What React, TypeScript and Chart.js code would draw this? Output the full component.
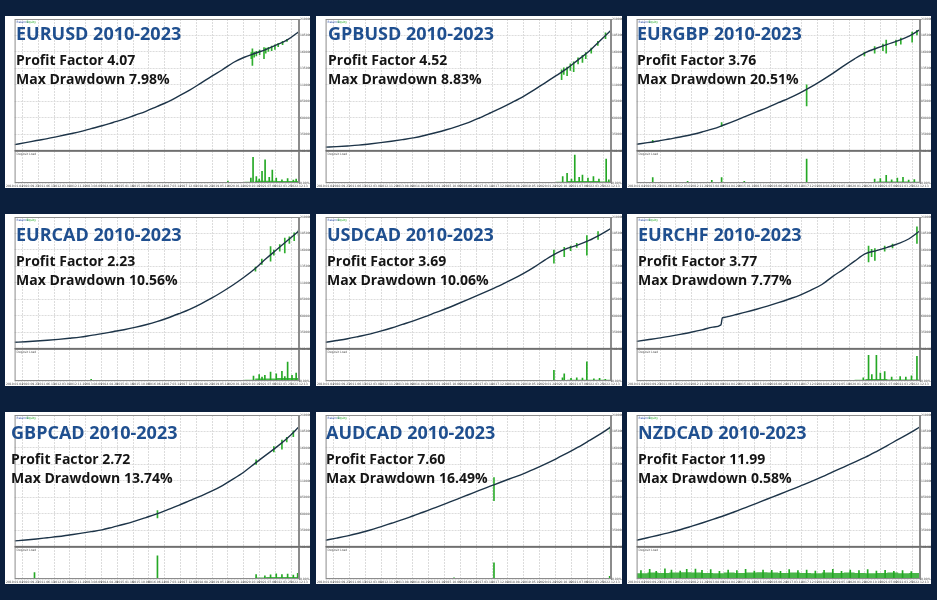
import { useEffect, useRef } from 'react';
import { Chart, registerables } from 'chart.js';

Chart.register(...registerables);

// ---------- text ----------
const pairs = ['EURUSD', 'GPBUSD', 'EURGBP', 'EURCAD', 'USDCAD', 'EURCHF', 'GBPCAD', 'AUDCAD', 'NZDCAD'];
const period = '2010-2023';
const profitFactors = ['4.07', '4.52', '3.76', '2.23', '3.69', '3.77', '2.72', '7.60', '11.99'];
const maxDrawdowns = ['7.98%', '8.83%', '20.51%', '10.56%', '10.06%', '7.77%', '13.74%', '16.49%', '0.58%'];

// ---------- x axis ----------
const halfYears = [2010, 2010.5, 2011, 2011.5, 2012, 2012.5, 2013, 2013.5, 2014, 2014.5, 2015, 2015.5, 2016, 2016.5,
  2017, 2017.5, 2018, 2018.5, 2019, 2019.5, 2020, 2020.5, 2021, 2021.5, 2022, 2022.5, 2023];
const dateLabels = ['2010.01.04', '2010.09.23', '2011.06.13', '2012.03.01', '2012.11.20', '2013.08.09', '2014.04.29',
  '2015.01.16', '2015.10.06', '2016.06.24', '2017.03.14', '2017.12.01', '2018.08.21', '2019.05.10', '2020.01.28',
  '2020.10.16', '2021.07.06', '2022.03.25', '2022.12.13'];

// ---------- balance (share of pane height, %) ----------
const balEURUSD = [4.7, 6.2, 7.8, 9.3, 11.0, 12.8, 14.6, 16.8, 19.0, 21.5, 24.0, 27.0, 30.0, 33.6, 37.2, 41.5, 46.0, 51.2, 56.5, 61.5, 67.0, 71.0, 74.0, 77.0, 80.5, 84.5, 90.5];
const balGPBUSD = [2.8, 3.2, 3.7, 4.3, 5.2, 6.2, 7.3, 8.5, 9.8, 11.6, 13.7, 16.0, 18.6, 21.4, 24.9, 28.7, 32.6, 36.8, 41.2, 46.2, 51.6, 57.0, 62.5, 69.0, 75.5, 83.5, 91.5];
const balEURGBP = [5.0, 6.2, 7.5, 9.0, 10.5, 12.2, 14.3, 16.6, 19.6, 22.8, 26.2, 29.5, 32.8, 36.5, 40.0, 44.0, 48.5, 53.5, 58.8, 64.5, 69.8, 74.5, 77.8, 80.8, 83.6, 87.0, 92.0];
const balEURCAD = [5.0, 5.4, 5.9, 6.5, 7.2, 8.0, 8.9, 10.2, 11.5, 13.0, 14.5, 16.3, 18.3, 20.6, 23.4, 26.6, 30.0, 34.0, 38.4, 43.3, 48.6, 54.5, 61.0, 68.5, 75.5, 82.5, 89.5];
const balUSDCAD = [5.0, 6.3, 7.7, 9.4, 11.2, 13.4, 15.8, 18.5, 21.2, 24.2, 27.4, 30.6, 34.0, 37.5, 41.1, 44.8, 48.6, 52.6, 57.0, 62.0, 67.5, 72.5, 76.2, 78.8, 82.2, 86.5, 91.3];
const balEURCHF = [5.7, 6.9, 8.1, 9.5, 11.0, 12.6, 14.4, 16.5, 23.8, 25.8, 27.8, 30.0, 32.4, 35.0, 37.8, 40.8, 44.5, 48.8, 55.0, 60.5, 66.5, 72.2, 74.5, 77.0, 79.8, 83.5, 89.6];
const balEURCHFStep = [[2013.87, 18.2], [2013.93, 23.4]];
const balGBPCAD = [4.5, 5.2, 6.0, 6.9, 7.8, 9.0, 10.2, 11.5, 12.9, 15.0, 17.1, 19.5, 22.2, 25.0, 28.2, 31.5, 35.0, 38.5, 42.2, 46.5, 51.5, 57.0, 63.5, 69.8, 76.0, 83.0, 91.0];
const balAUDCAD = [5.0, 6.6, 8.3, 10.3, 12.6, 15.2, 17.9, 20.6, 23.6, 26.6, 29.8, 33.0, 36.2, 39.5, 42.8, 46.0, 49.2, 52.3, 55.4, 59.0, 62.8, 66.8, 71.0, 75.6, 80.5, 85.5, 91.0];
const balNZDCAD = [5.0, 6.9, 8.8, 10.8, 13.0, 15.5, 18.1, 20.8, 23.6, 26.6, 29.8, 33.0, 36.3, 39.5, 42.8, 46.1, 49.4, 53.0, 56.8, 60.5, 64.2, 68.0, 72.3, 76.8, 81.5, 86.0, 91.0];

// ---------- equity excursions [year, low, high] ----------
const eqEURUSD = [[2020.82, 70, 74.5], [2020.87, 64.7, 77.4], [2020.95, 71, 75], [2021.05, 72, 75.5], [2021.2, 73, 76.5], [2021.4, 70, 78.4], [2021.48, 74, 78], [2021.6, 75.5, 78.5], [2021.75, 76, 79.5], [2021.9, 77, 80.5], [2022.05, 79, 81.5], [2022.25, 80.5, 83], [2022.45, 83, 84.5]];
const eqGPBUSD = [[2020.75, 54, 61.5], [2020.85, 58, 63], [2021.0, 57, 63.5], [2021.15, 61, 66], [2021.3, 60, 67.5], [2021.5, 66, 70.5], [2021.7, 67, 72.5], [2021.85, 70, 74.5], [2022.1, 74, 78], [2022.4, 80, 83], [2022.75, 85, 89.5]];
const eqEURGBP = [[2010.74, 6.3, 8], [2013.9, 18.5, 21.5], [2017.8, 34, 50], [2020.45, 72, 75], [2020.92, 74, 79], [2021.3, 76, 81], [2021.45, 74, 84], [2021.9, 80, 84], [2022.12, 81, 85.5], [2022.64, 82.5, 90], [2022.86, 88, 91.5]];
const eqEURCAD = [[2021.01, 59, 62], [2021.3, 64, 68], [2021.7, 66.5, 77.5], [2021.85, 71, 75], [2022.12, 74, 79], [2022.35, 72.7, 84], [2022.56, 80, 85], [2022.78, 82, 88], [2022.98, 86, 90]];
const eqUSDCAD = [[2020.4, 65, 75], [2020.87, 70, 77], [2021.16, 74.5, 78], [2021.44, 77, 80], [2021.9, 71, 86], [2022.41, 83, 89]];
const eqEURCHF = [[2020.64, 66, 78], [2020.78, 70, 75.5], [2020.93, 67, 76], [2021.38, 74, 78], [2021.74, 76.5, 79.5], [2022.86, 80, 92.5]];
const eqGBPCAD = [[2016.53, 22, 27.5], [2021.04, 62.5, 66], [2021.85, 72, 76], [2022.22, 74, 81], [2022.44, 79.5, 83], [2022.74, 83.5, 88]];
const eqAUDCAD = [[2017.67, 35, 52.5], [2022.98, 86, 91]];
const eqNZDCAD: number[][] = [];

// ---------- deposit load: base level per half-year (%) ----------
const baseEURUSD = [3, 3, 3, 3, 3, 3, 3, 3, 3, 3, 3, 3, 3, 3, 3, 3, 3, 3, 3, 3, 3, 4, 7, 7, 6, 6, 5];
const baseGPBUSD = [3, 3, 3, 3, 3, 3, 3, 3, 3, 3, 3, 3, 3, 3, 3, 3, 3, 3, 3, 3, 3, 4, 6, 6, 6, 5, 5];
const baseEURGBP = [2, 2, 2, 2, 2, 2, 2, 2, 2, 2, 2, 2, 2, 2, 2, 2, 2, 2, 2, 2, 2, 3, 5, 5, 5, 4, 4];
const baseEURCAD = [3, 3, 3, 3, 3, 3, 3, 3, 3, 3, 3, 3, 3, 3, 3, 3, 3, 3, 3, 3, 3, 4, 8, 8, 9, 9, 9];
const baseUSDCAD = [2, 2, 2, 2, 2, 2, 2, 2, 2, 2, 2, 2, 2, 2, 2, 2, 2, 2, 2, 2, 3, 3, 4, 4, 4, 4, 3];
const baseEURCHF = [3, 3, 3, 3, 3, 3, 3, 3, 3, 3, 3, 3, 3, 3, 3, 3, 3, 3, 3, 3, 4, 6, 6, 5, 5, 5, 5];
const baseGBPCAD = [2, 2, 2, 2, 2, 2, 2, 2, 2, 2, 2, 2, 2, 2, 2, 2, 2, 2, 2, 2, 2, 3, 5, 6, 6, 6, 6];
const baseAUDCAD = [1, 1, 1, 1, 1, 1, 1, 1, 1, 1, 1, 1, 1, 1, 1, 1, 1, 1, 1, 1, 1, 1, 1, 1, 1, 1, 1];
const baseNZDCAD = [18, 20, 19, 20, 21, 20, 19, 18, 20, 19, 20, 21, 20, 19, 20, 19, 18, 20, 19, 20, 19, 18, 19, 20, 18, 19, 18];

// ---------- deposit load spikes [year, %] ----------
const spEURUSD = [[2019.75, 6], [2020.8, 15], [2020.9, 80], [2021.05, 20], [2021.18, 12], [2021.31, 36], [2021.45, 72], [2021.64, 18], [2021.78, 40], [2021.96, 15], [2022.22, 10], [2022.48, 14], [2022.74, 9], [2022.87, 12]];
const spGPBUSD = [[2020.8, 20], [2021.0, 30], [2021.2, 12], [2021.35, 87], [2021.55, 18], [2021.7, 25], [2021.95, 15], [2022.2, 20], [2022.45, 12], [2022.78, 74], [2022.9, 10]];
const spEURGBP = [[2010.74, 17], [2012.34, 5], [2013.45, 8], [2013.9, 17], [2014.94, 5], [2017.8, 74], [2020.92, 12], [2021.18, 14], [2021.45, 24], [2021.7, 10], [2021.96, 15], [2022.22, 18], [2022.48, 9], [2022.74, 11]];
const spEURCAD = [[2013.5, 5], [2020.92, 15], [2021.18, 20], [2021.31, 12], [2021.44, 18], [2021.7, 28], [2021.96, 22], [2022.22, 30], [2022.35, 14], [2022.48, 59], [2022.68, 18], [2022.87, 25]];
const spUSDCAD = [[2020.4, 33], [2020.79, 10], [2020.87, 22], [2021.18, 8], [2021.44, 10], [2021.7, 9], [2021.9, 60], [2022.22, 7], [2022.48, 8], [2022.74, 5]];
const spEURCHF = [[2020.4, 10], [2020.64, 80], [2020.79, 20], [2021.0, 80], [2021.18, 25], [2021.38, 29], [2021.7, 12], [2022.09, 14], [2022.35, 12], [2022.61, 16], [2022.86, 77]];
const spGBPCAD = [[2010.91, 20], [2016.53, 72], [2021.04, 14], [2021.44, 10], [2021.7, 13], [2021.96, 16], [2022.22, 14], [2022.48, 15], [2022.74, 12], [2022.94, 18]];
const spAUDCAD = [[2015.85, 4], [2017.67, 50], [2022.94, 8]];
const spNZDCAD = [[2010.2, 26], [2010.6, 30], [2010.9, 24], [2011.3, 32], [2011.6, 28], [2012.0, 25], [2012.3, 30], [2012.7, 31], [2013.0, 27], [2013.4, 29], [2013.8, 24], [2014.2, 28], [2014.6, 26], [2015.0, 30], [2015.4, 25], [2015.8, 28], [2016.2, 27], [2016.6, 24], [2017.0, 29], [2017.4, 26], [2017.8, 28], [2018.2, 25], [2018.6, 27], [2019.0, 30], [2019.4, 24], [2019.8, 28], [2020.2, 26], [2020.6, 29], [2021.0, 25], [2021.4, 27], [2021.8, 24], [2022.2, 26], [2022.6, 23]];

// ---------- table built from the arrays ----------
const balances = [balEURUSD, balGPBUSD, balEURGBP, balEURCAD, balUSDCAD, balEURCHF, balGBPCAD, balAUDCAD, balNZDCAD];
const balanceExtras = [[], [], [], [], [], balEURCHFStep, [], [], []];
const equities = [eqEURUSD, eqGPBUSD, eqEURGBP, eqEURCAD, eqUSDCAD, eqEURCHF, eqGBPCAD, eqAUDCAD, eqNZDCAD];
const loadBases = [baseEURUSD, baseGPBUSD, baseEURGBP, baseEURCAD, baseUSDCAD, baseEURCHF, baseGBPCAD, baseAUDCAD, baseNZDCAD];
const loadSpikes = [spEURUSD, spGPBUSD, spEURGBP, spEURCAD, spUSDCAD, spEURCHF, spGBPCAD, spAUDCAD, spNZDCAD];

// ---------- layout / style ----------
const BG = '#0b1f3d';
const TITLE = '#1f4f8f';
const LINE = '#1d3448';
const GREEN = '#2fae2f';
const GRID = '#dcdcdc';
const colX = [5, 316, 627];
const colW = [305, 306, 304];
const rowY = [16, 214, 412];
const PANEL_H = 172;
const rowTextTop = [0, 3, 3];
const textLeft = [11, 12, 10, 11, 11, 11, 6, 10, 11];

const panePlugin = {
  id: 'panes',
  afterDatasetsDraw(chart: any) {
    const { ctx, chartArea } = chart;
    const y = chart.scales.y;
    const y2 = chart.scales.y2;
    ctx.save();
    ctx.strokeStyle = '#8c8c8c';
    ctx.lineWidth = 1;
    ctx.strokeRect(chartArea.left + 0.5, y.top + 0.5, chartArea.width - 1, y.bottom - y.top - 1);
    ctx.strokeRect(chartArea.left + 0.5, y2.top + 0.5, chartArea.width - 1, y2.bottom - y2.top - 1);
    ctx.strokeStyle = '#6f6f6f';
    ctx.lineWidth = 1.5;
    ctx.beginPath();
    ctx.moveTo(chartArea.left, y.bottom);
    ctx.lineTo(chart.width, y.bottom);
    ctx.stroke();
    ctx.font = '3px "DejaVu Sans"';
    ctx.textBaseline = 'top';
    ctx.fillStyle = '#3355aa';
    ctx.fillText('Balance', chartArea.left + 2, y.top + 1.5);
    ctx.fillStyle = '#22aa22';
    ctx.fillText('Equity', chartArea.left + 12, y.top + 1.5);
    ctx.fillStyle = '#555';
    ctx.fillText('Deposit Load', chartArea.left + 2, y2.top + 2);
    ctx.restore();
  },
};

function Panel({ idx }: { idx: number }) {
  const ref = useRef<HTMLCanvasElement>(null);
  useEffect(() => {
    if (!ref.current) return;
    const balPts = halfYears.map((x, i) => ({ x, y: balances[idx][i] }))
      .concat(balanceExtras[idx].map((p) => ({ x: p[0], y: p[1] })))
      .sort((a, b) => a.x - b.x);
    const chart = new Chart(ref.current, {
      type: 'line',
      data: {
        datasets: [
          {
            type: 'line', label: 'Balance', data: balPts, yAxisID: 'y', order: 0,
            borderColor: LINE, borderWidth: 1.4, pointRadius: 0, cubicInterpolationMode: 'monotone',
          },
          {
            type: 'bar', label: 'Equity', yAxisID: 'y', order: 1, grouped: false,
            data: equities[idx].map((e) => ({ x: e[0], y: [e[1], e[2]] })),
            backgroundColor: GREEN, barThickness: 1,
          },
          {
            type: 'line', label: 'Load base', yAxisID: 'y2', order: 3,
            data: halfYears.map((x, i) => ({ x, y: loadBases[idx][i] })),
            stepped: true, fill: 'origin', borderWidth: 0, pointRadius: 0,
            backgroundColor: '#49b649',
          },
          {
            type: 'bar', label: 'Deposit load', yAxisID: 'y2', order: 2, grouped: false,
            data: loadSpikes[idx].map((s) => ({ x: s[0], y: s[1] })),
            backgroundColor: '#25a825', barThickness: 1,
          },
        ],
      } as any,
      options: {
        animation: false,
        responsive: true,
        maintainAspectRatio: false,
        layout: { padding: { top: 3, left: 1, right: 0, bottom: 0 } },
        plugins: { legend: { display: false }, tooltip: { enabled: false } },
        scales: {
          x: {
            type: 'linear', min: 2010, max: 2023, offset: false,
            ticks: {
              count: 19, autoSkip: false, maxRotation: 0, padding: 1,
              font: { size: 3, family: 'DejaVu Sans' }, color: '#444',
              callback: (_v: any, i: number) => dateLabels[i] ?? '',
            },
            grid: { color: GRID, drawTicks: false },
            border: { display: false, dash: [2, 1] },
            afterFit: (s: any) => { s.height = 5; },
          },
          y: {
            type: 'linear', position: 'right', stack: 'pane', stackWeight: 4.1, min: 0, max: 100,
            ticks: {
              count: 17, padding: 1, font: { size: 3, family: 'DejaVu Sans' }, color: '#444',
              callback: (v: any) => String(Math.round(10000 + v * 2000)),
            },
            grid: { color: GRID, drawTicks: false },
            border: { display: true, color: '#8c8c8c', dash: [2, 1] },
            afterFit: (s: any) => { s.width = 11; },
          },
          y2: {
            type: 'linear', position: 'right', stack: 'pane', stackWeight: 1, min: 0, max: 100,
            ticks: {
              count: 2, padding: 1, font: { size: 3, family: 'DejaVu Sans' }, color: '#444',
              callback: (v: any) => `${v.toFixed(2)}%`,
            },
            grid: { color: GRID, drawTicks: false },
            border: { display: true, color: '#8c8c8c', dash: [2, 1] },
            afterFit: (s: any) => { s.width = 11; },
          },
        },
      } as any,
      plugins: [panePlugin],
    });
    return () => chart.destroy();
  }, [idx]);

  const col = idx % 3;
  const row = Math.floor(idx / 3);
  const tl = textLeft[idx];
  const tt = rowTextTop[row];
  return (
    <div style={{ position: 'absolute', left: colX[col], top: rowY[row], width: colW[col], height: PANEL_H, background: '#fff' }}>
      <div style={{ position: 'absolute', inset: 0 }}>
        <canvas ref={ref} />
      </div>
      <div style={{ position: 'absolute', left: tl, top: 8 + tt, font: '700 18px "Open Sans"', lineHeight: '18px', color: TITLE, whiteSpace: 'nowrap', pointerEvents: 'none' }}>
        {pairs[idx]} {period}
      </div>
      <div style={{ position: 'absolute', left: tl, top: 37 + tt, font: '700 14px "Open Sans"', lineHeight: '14px', color: '#151515', whiteSpace: 'nowrap', pointerEvents: 'none' }}>
        Profit Factor {profitFactors[idx]}
      </div>
      <div style={{ position: 'absolute', left: tl, top: 55.5 + tt, font: '700 14px "Open Sans"', lineHeight: '14px', color: '#151515', whiteSpace: 'nowrap', pointerEvents: 'none' }}>
        Max Drawdown {maxDrawdowns[idx]}
      </div>
    </div>
  );
}

export default function App() {
  useEffect(() => {
    document.body.style.margin = '0';
  }, []);
  return (
    <div style={{ position: 'relative', width: 937, height: 600, background: BG, overflow: 'hidden' }}>
      {pairs.map((_p, i) => <Panel key={i} idx={i} />)}
    </div>
  );
}
